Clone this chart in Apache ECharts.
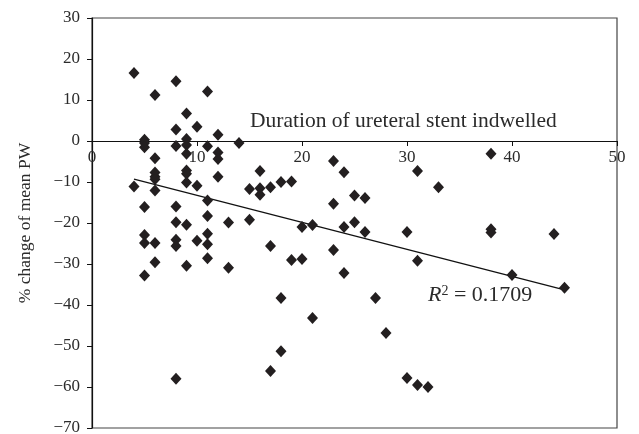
<!DOCTYPE html>
<html>
<head>
<meta charset="utf-8">
<script src="https://cdn.jsdelivr.net/npm/echarts@6/dist/echarts.min.js"></script>
<style>html,body{margin:0;padding:0;background:#fff;}#c{width:639px;height:434px;}</style>
</head>
<body>
<div id="c"></div>
<script>
const durationX = [4,6,8,11,9,8,10,12,9,9,5,14,5,8,11,5,12,9,12,6,6,6,6,9,9,9,12,4,6,10,11,5,8,11,8,9,13,15,16,15,16,16,17,5,5,6,8,8,10,11,11,17,6,9,11,13,5,8,17,23,24,31,33,18,19,25,26,23,20,21,24,25,26,30,23,19,20,31,24,18,27,21,28,18,30,31,32,38,38,38,44,40,45];
const changePW = [16.6,11.2,14.6,12.1,6.7,2.8,3.5,1.5,0.5,-1.0,0.3,-0.5,-0.5,-1.2,-1.3,-1.5,-2.8,-3.1,-4.4,-4.2,-7.7,-8.7,-9.3,-7.2,-8.0,-10.1,-8.7,-11.1,-12.1,-10.9,-14.5,-16.1,-16.0,-18.3,-19.8,-20.4,-19.9,-19.2,-7.3,-11.7,-11.5,-13.1,-11.3,-22.9,-24.9,-24.9,-24.1,-25.6,-24.3,-22.6,-25.2,-25.6,-29.6,-30.4,-28.6,-30.9,-32.8,-58.0,-56.1,-4.9,-7.6,-7.3,-11.3,-10.0,-9.9,-13.3,-13.9,-15.3,-21.0,-20.5,-21.0,-19.8,-22.2,-22.2,-26.6,-29.0,-28.8,-29.2,-32.2,-38.3,-38.3,-43.2,-46.8,-51.3,-57.8,-59.5,-60.0,-3.1,-21.5,-22.3,-22.7,-32.7,-35.8];
const trendX = [4, 45];
const trendY = [-9.3, -36.3];
const xTicks = [0, 10, 20, 30, 40, 50];
const yTicks = [-70, -60, -50, -40, -30, -20, -10, 0, 10, 20, 30];
const xTitle = 'Duration of ureteral stent indwelled';
const yTitle = '% change of mean PW';
const r2Text = '0.1709';

const FONT = 'Liberation Serif';
const INK = '#231f20';
const TXT = '#2b2b2b';
const GRID = {left: 92, top: 18, right: 22, bottom: 6};
const chartH = 434;
const plotH = chartH - GRID.top - GRID.bottom;
const yMin = yTicks[0], yMax = yTicks[yTicks.length - 1];
const zeroFromBottom = plotH * (0 - yMin) / (yMax - yMin);

const chart = echarts.init(document.getElementById('c'), null, {renderer: 'canvas'});
chart.setOption({
  animation: false,
  backgroundColor: '#fff',
  grid: Object.assign({show: true, borderColor: '#444', borderWidth: 1.2, backgroundColor: 'transparent', outerBoundsMode: 'none', containLabel: false}, GRID),
  xAxis: {
    type: 'value', min: xTicks[0], max: xTicks[xTicks.length - 1], interval: 10,
    position: 'bottom', offset: -zeroFromBottom,
    axisLine: {onZero: false, lineStyle: {color: '#111', width: 1.2}},
    axisTick: {show: true, inside: false, length: 5, lineStyle: {color: '#111'}},
    axisLabel: {margin: 8, fontFamily: FONT, fontSize: 17, color: TXT, showMinLabel: true, showMaxLabel: true},
    splitLine: {show: false}
  },
  yAxis: {
    type: 'value', min: yMin, max: yMax, interval: 10,
    name: yTitle, nameLocation: 'middle', nameGap: 58,
    nameTextStyle: {fontFamily: FONT, fontSize: 17.5, color: TXT},
    axisLine: {show: true, onZero: false, lineStyle: {color: '#111', width: 1.2}},
    axisTick: {show: true, length: 5, lineStyle: {color: '#111'}},
    axisLabel: {margin: 12, fontFamily: FONT, fontSize: 17, color: TXT,
      formatter: v => v < 0 ? '\u2212' + Math.abs(v) : String(v)},
    splitLine: {show: false}
  },
  graphic: [
    {type: 'text', left: 250, top: 110, style: {text: xTitle, font: '21.5px "Liberation Serif"', fill: TXT}},
    {type: 'text', left: 428, top: 284, style: {
      text: '{i|R}{s|2} = ' + r2Text,
      font: '22px "Liberation Serif"', fill: TXT,
      rich: {i: {fontStyle: 'italic', fontFamily: FONT, fontSize: 22, fill: TXT}, s: {fontFamily: FONT, fontSize: 14, verticalAlign: 'top', padding: [0,0,9,0], fill: TXT}}
    }}
  ],
  series: [
    {type: 'scatter', symbol: 'diamond', symbolSize: [11, 12],
     itemStyle: {color: INK, opacity: 1}, data: durationX.map((x, i) => [x, changePW[i]]), z: 3},
    {type: 'line', data: trendX.map((x, i) => [x, trendY[i]]), symbol: 'none',
     lineStyle: {color: '#111', width: 1.2}, z: 2}
  ]
});
</script>
</body>
</html>
